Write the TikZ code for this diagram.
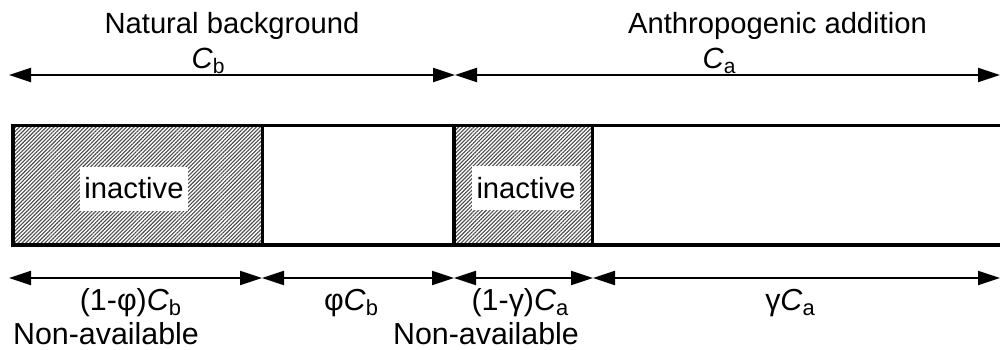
\documentclass[tikz,border=0pt]{standalone}
\usepackage{fontspec}
\setmainfont{Liberation Sans}
\usetikzlibrary{arrows.meta,patterns.meta}

% italic symbol with a lowered, smaller subscript
\newcommand{\symsub}[2]{\textit{#1}\raisebox{-0.35ex}{\fontsize{0.72em}{1em}\selectfont #2}}

\begin{document}
\begin{tikzpicture}[x=0.5pt,y=-0.5pt,
  txt/.style={font=\fontsize{14.6}{17}\selectfont, inner sep=0pt, anchor=base},
  btxt/.style={font=\fontsize{15.2}{18}\selectfont, inner sep=0pt, anchor=base},
  dim/.style={line width=1pt, {Triangle[length=11pt,width=7pt]}-{Triangle[length=11pt,width=7pt]}},
  hatch/.style={pattern={Lines[angle=45,distance=1.35pt,line width=0.55pt]}, pattern color=black!70},
  frame/.style={line width=1.75pt},
  tag/.style={fill=white, font=\fontsize{14.6}{17}\selectfont, minimum width=54pt, minimum height=22pt, inner sep=0pt}
]
\useasboundingbox (0,0) rectangle (1000,349);

% bar coordinates
\coordinate (tl) at (13,125.5);
\coordinate (d1t) at (262.5,125.5);
\coordinate (d2t) at (454,125.5);
\coordinate (d3t) at (592.5,125.5);
\coordinate (tr) at (1010,125.5);
\coordinate (bl) at (13,245);
\coordinate (d1b) at (262.5,245);
\coordinate (d2b) at (454,245);
\coordinate (d3b) at (592.5,245);
\coordinate (br) at (1010,245);

% hatched (inactive) parts
\fill[hatch] (tl) rectangle (d1b);
\fill[hatch] (d2t) rectangle (d3b);

% outline of the bar
\draw[frame] (tr) -- (tl) -- (bl) -- (br);
\draw[frame] (d1t) -- (d1b);
\draw[frame] (d2t) -- (d2b);
\draw[frame] (d3t) -- (d3b);

\node[tag] (in1) at (134,188.5) {inactive};
\node[tag] (in2) at (526,188) {inactive};

% upper dimension arrows
\coordinate (u0) at (9,75);
\coordinate (u1) at (455,75);
\coordinate (u2) at (1000,75);
\draw[dim] (u0) -- (u1);
\draw[dim] (u1) -- (u2);

% lower dimension arrows
\coordinate (l0) at (9,278);
\coordinate (l1) at (262,278);
\coordinate (l2) at (454,278);
\coordinate (l3) at (593,278);
\coordinate (l4) at (1000,278);
\draw[dim] (l0) -- (l1);
\draw[dim] (l1) -- (l2);
\draw[dim] (l2) -- (l3);
\draw[dim] (l3) -- (l4);

% labels
\node[txt] (nb) at (232,33) {Natural background};
\node[txt] (cb) at (208,68) {\symsub{C}{b}};
\node[txt] (aa) at (777.5,33) {Anthropogenic addition};
\node[txt] (ca) at (719,68) {\symsub{C}{a}};

\node[btxt] (q1) at (130.5,310) {(1-φ)\symsub{C}{b}};
\node[btxt] (q2) at (351,310) {φ\symsub{C}{b}};
\node[btxt] (q3) at (520,310) {(1-γ)\symsub{C}{a}};
\node[btxt] (q4) at (790,310) {γ\symsub{C}{a}};
\node[btxt] (na1) at (106,344) {Non-available};
\node[btxt] (na2) at (486,344) {Non-available};
\end{tikzpicture}
\end{document}
